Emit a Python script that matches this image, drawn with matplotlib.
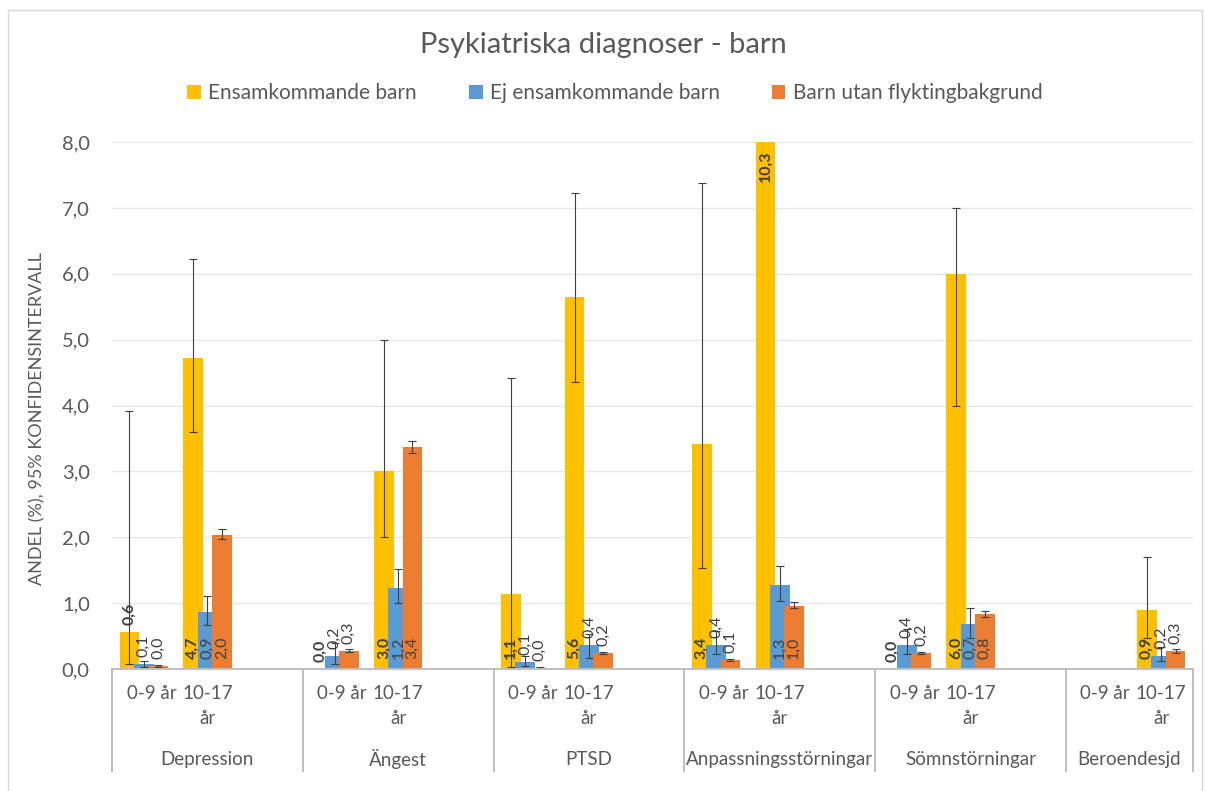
import numpy as np
import matplotlib
matplotlib.use("Agg")
import matplotlib.pyplot as plt
from matplotlib.patches import Patch
from matplotlib.ticker import FuncFormatter, MultipleLocator
from matplotlib.lines import Line2D

plt.rcParams['font.family'] = ['Lato', 'DejaVu Sans']

groups = ["Depression", "Ängest", "PTSD", "Anpassningsstörningar", "Sömnstörningar", "Beroendesjd"]
ages = ["0-9 år", "10-17\når"]
series = ["Ensamkommande barn", "Ej ensamkommande barn", "Barn utan flyktingbakgrund"]
colors = ["#FFC000", "#5B9BD5", "#ED7D31"]

# one value per (group, age): 0-9 år, 10-17 år
nan = np.nan
ensam    = [0.56, 4.72, 0.00, 3.00, 1.14, 5.64, 3.41, 10.30, 0.00, 6.00, nan, 0.90]
ensam_lo = [0.08, 3.60, nan,  2.00, 0.03, 4.36, 1.54, 8.60,  nan,  4.00, nan, 0.47]
ensam_hi = [3.92, 6.22, nan,  5.00, 4.42, 7.22, 7.38, 12.50, nan,  7.00, nan, 1.70]

ej    = [0.07, 0.86, 0.20, 1.23, 0.11, 0.36, 0.37, 1.27, 0.37, 0.68, nan, 0.20]
ej_lo = [0.03, 0.67, 0.08, 1.00, 0.04, 0.17, 0.23, 1.03, 0.23, 0.47, nan, 0.12]
ej_hi = [0.12, 1.11, 0.40, 1.52, 0.20, 0.53, 0.58, 1.57, 0.60, 0.92, nan, 0.33]

utan    = [0.04, 2.03, 0.28, 3.37, 0.02, 0.24, 0.13, 0.96, 0.24, 0.83, nan, 0.27]
utan_lo = [0.03, 1.97, 0.26, 3.28, 0.01, 0.23, 0.12, 0.92, 0.23, 0.79, nan, 0.25]
utan_hi = [0.06, 2.12, 0.31, 3.46, 0.03, 0.26, 0.15, 1.01, 0.26, 0.88, nan, 0.30]

W, H = 1205, 791
fig = plt.figure(figsize=(W / 100, H / 100), dpi=100)
ax = fig.add_axes([112 / W, (H - 669) / H, (1193 - 112) / W, (669 - 142) / H])

ymax = 8.0
slots = np.array([3 * g + a + 0.5 for g in range(len(groups)) for a in range(len(ages))])
width = 0.31
step = 0.225

data = [(ensam, ensam_lo, ensam_hi), (ej, ej_lo, ej_hi), (utan, utan_lo, utan_hi)]
for k, (vals, lo, hi) in enumerate(data):
    vals = np.array(vals, dtype=float)
    lo = np.array(lo, dtype=float)
    hi = np.array(hi, dtype=float)
    xs = slots + (k - 1) * step
    ok = ~np.isnan(vals)
    ax.bar(xs[ok], vals[ok], width=width, color=colors[k], zorder=2)
    e = ~np.isnan(lo)
    ax.errorbar(xs[e], vals[e], yerr=[vals[e] - lo[e], hi[e] - vals[e]], fmt='none',
                ecolor='#404040', elinewidth=0.8, capsize=3, capthick=0.8, zorder=3)
    for x, v in zip(xs[ok], vals[ok]):
        txt = f"{v:.1f}".replace('.', ',')
        if v > ymax:
            y, off, va = ymax, -6, 'top'
        elif v < 0.6:
            y, off, va = v, 5, 'bottom'
        else:
            y, off, va = 0, 7, 'bottom'
        ax.annotate(txt, (x, y), xytext=(0, off), textcoords='offset points',
                    rotation=90, ha='center', va=va, fontsize=11.5,
                    fontweight='bold' if k == 0 else 'normal', color='#404040', zorder=4)

ax.set_xlim(0, 17)
ax.set_ylim(0, ymax)
ax.yaxis.set_major_locator(MultipleLocator(1))
ax.yaxis.set_major_formatter(FuncFormatter(lambda v, _: f"{v:.1f}".replace('.', ',')))
ax.tick_params(axis='y', length=0, pad=16, labelsize=14.5, labelcolor='#595959')
ax.set_xticks([])
ax.grid(axis='y', color='#E6E6E6', lw=0.9, zorder=0)
ax.set_axisbelow(True)
for s in ax.spines.values():
    s.set_visible(False)
ax.axhline(0, color='#BFBFBF', lw=1.4, zorder=5, clip_on=False)

ax.set_ylabel("ANDEL (%), 95% KONFIDENSINTERVALL", fontsize=13, color='#595959')
ax.yaxis.set_label_coords(-0.062, 0.475)

# multi-level category axis
trans = ax.get_xaxis_transform()
bottom = -(771 - 669) / (669 - 142)
for b in [0, 3, 6, 9, 12, 15, 17]:
    ax.add_line(Line2D([b, b], [0, bottom], transform=trans, color='#BFBFBF', lw=1.4, clip_on=False))
for g, name in enumerate(groups):
    ax.text(3 * g + 0.62, -0.03, ages[0], transform=trans, ha='center', va='top',
            fontsize=13.5, color='#595959')
    ax.text(3 * g + 1.5, -0.03, ages[1], transform=trans, ha='center', va='top',
            fontsize=13.5, color='#595959', linespacing=1.55, multialignment='center')
    gc = 3 * g + (1.5 if g < len(groups) - 1 else 1.0)
    ax.text(gc, -0.171, name, transform=trans, ha='center', va='center',
            fontsize=13.5, color='#595959')

fig.text(0.501, 1 - 45 / H, "Psykiatriska diagnoser - barn", ha='center', va='center',
         fontsize=21, color='#595959')
handles = [Patch(facecolor=c, edgecolor='none') for c in colors]
fig.legend(handles, series, loc='center', bbox_to_anchor=(615 / W, 1 - 93 / H), ncol=3,
           frameon=False, fontsize=15, handlelength=0.65, handleheight=0.65,
           handletextpad=0.35, columnspacing=2.5, labelcolor='#595959')

# chart border
fig.add_artist(Line2D([8 / W, 1202 / W], [1 - 10 / H, 1 - 10 / H], color='#D9D9D9', lw=1))
fig.add_artist(Line2D([8 / W, 8 / W], [0, 1 - 10 / H], color='#D9D9D9', lw=1))
fig.add_artist(Line2D([1202 / W, 1202 / W], [0, 1 - 10 / H], color='#D9D9D9', lw=1))

fig.savefig("out.png", dpi=100, facecolor='white')
